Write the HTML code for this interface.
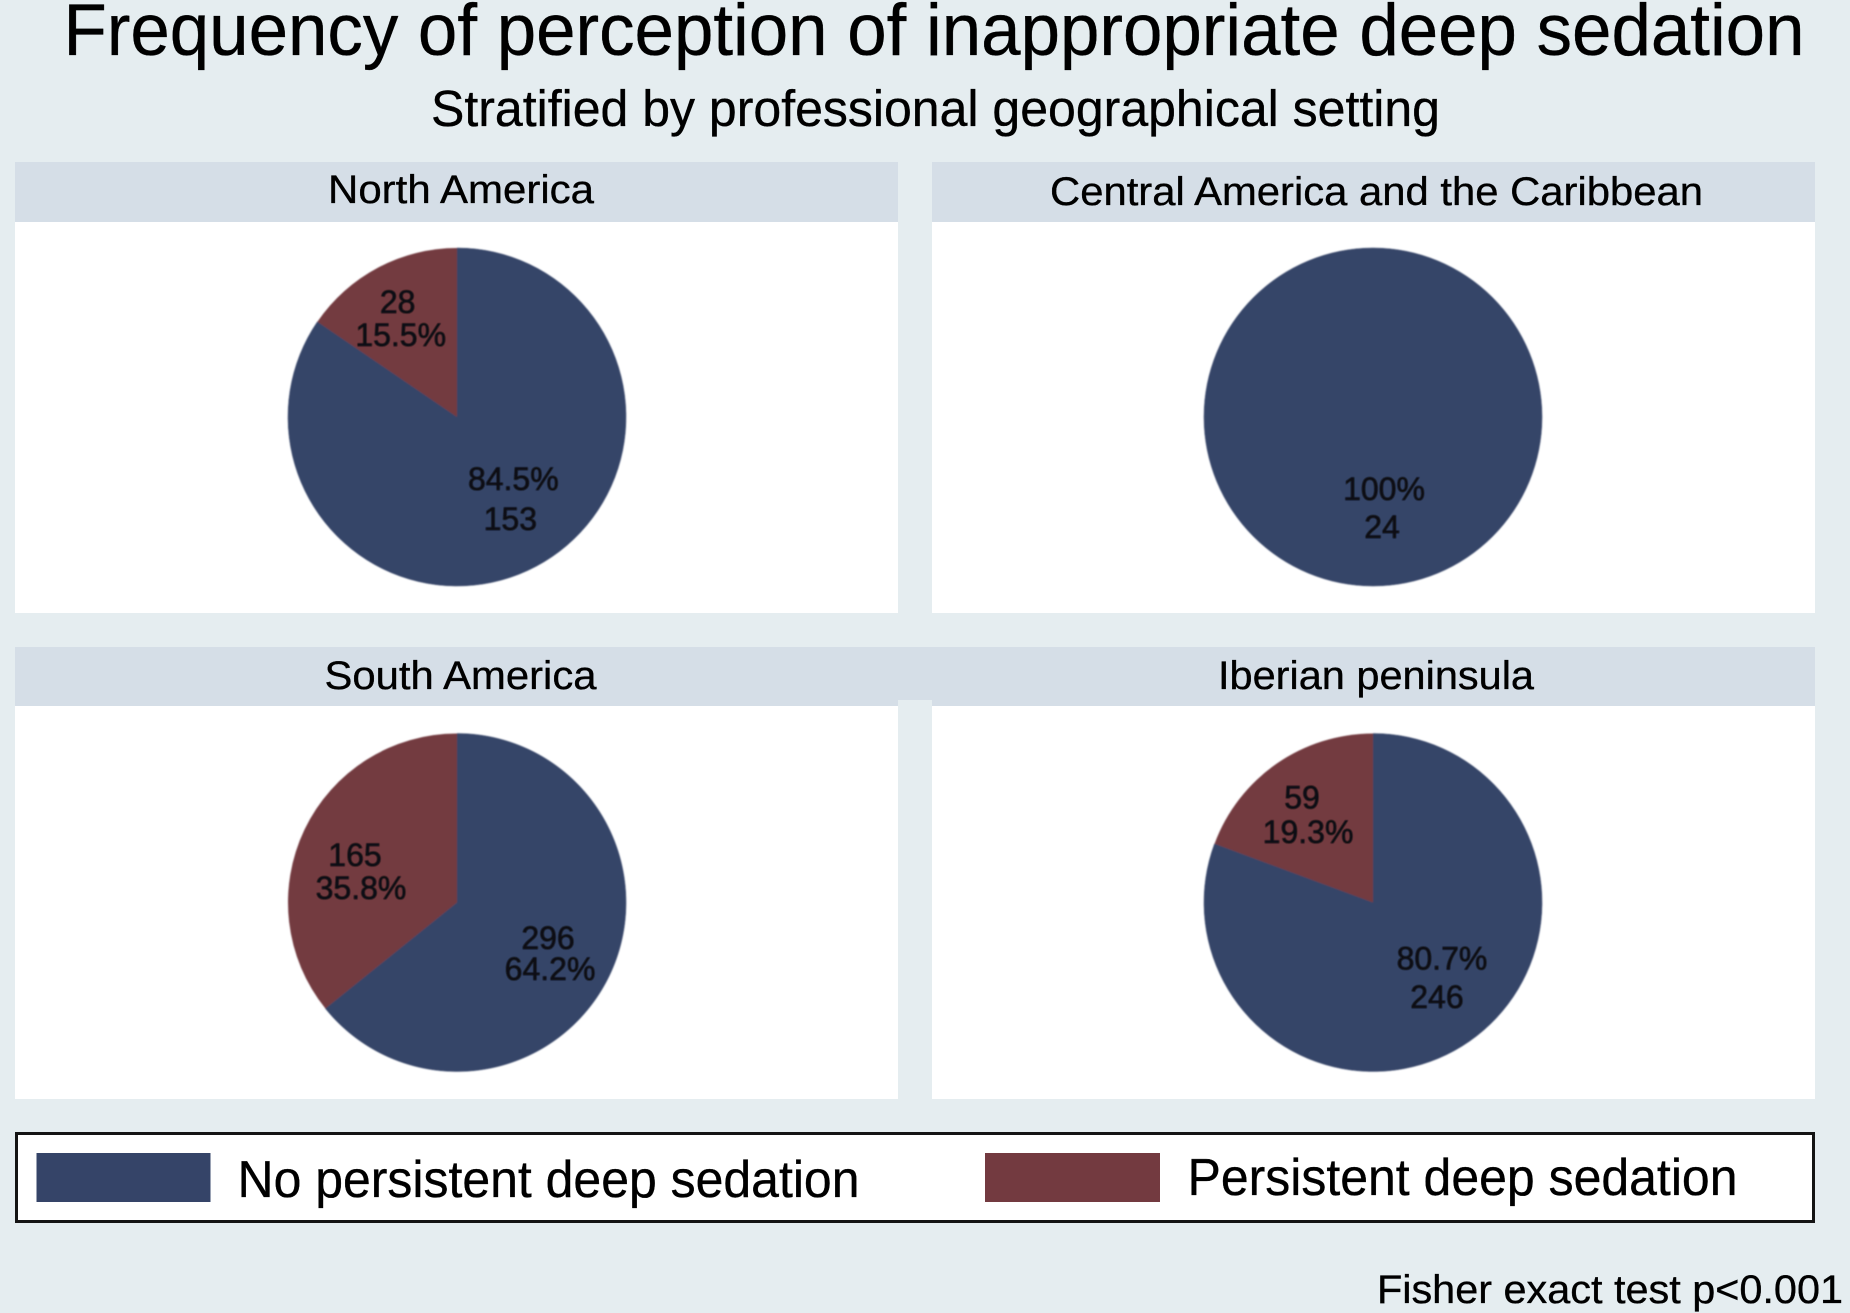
<!DOCTYPE html>
<html lang="en">
<head>
<meta charset="utf-8">
<title>Frequency of perception of inappropriate deep sedation</title>
<style>
html,body{margin:0;padding:0;background:#e5edf0;}
svg{display:block;}
text{font-family:"Liberation Sans",Arial,sans-serif;fill:#000;stroke:#000;stroke-width:0.35px;}
</style>
</head>
<body>
<svg id="chart" xmlns="http://www.w3.org/2000/svg" width="1850" height="1313" viewBox="0 0 1850 1313">
  <defs>
    <filter id="soft" x="-5%" y="-5%" width="110%" height="110%"><feGaussianBlur stdDeviation="0.7"/></filter>
    <filter id="softText" x="-5%" y="-5%" width="110%" height="110%"><feGaussianBlur stdDeviation="0.45"/></filter>
  </defs>
  <rect x="0" y="0" width="1850" height="1313" fill="#e5edf0"/>
  <text x="63.5" y="55" font-size="73" textLength="1741" lengthAdjust="spacingAndGlyphs">Frequency of perception of inappropriate deep sedation</text>
  <text x="431" y="126" font-size="51" textLength="1009" lengthAdjust="spacingAndGlyphs">Stratified by professional geographical setting</text>
  <rect x="898" y="647" width="34" height="53" fill="#d5dee7"/>
  <g id="panels"></g>
  <g>
    <rect x="16.5" y="1133.5" width="1797" height="88" fill="#fff" stroke="#141414" stroke-width="3"/>
    <rect x="36.5" y="1153" width="174" height="49" fill="#354468"/>
    <text x="237.5" y="1197" font-size="52" textLength="622" lengthAdjust="spacingAndGlyphs">No persistent deep sedation</text>
    <rect x="985" y="1153" width="175" height="49" fill="#733a40"/>
    <text x="1187.5" y="1195" font-size="52" textLength="550" lengthAdjust="spacingAndGlyphs">Persistent deep sedation</text>
  </g>
  <text x="1377" y="1303" font-size="40" textLength="466" lengthAdjust="spacingAndGlyphs">Fisher exact test p&lt;0.001</text>
</svg>
<script>
// Chart data
const regions = ["North America", "Central America and the Caribbean", "South America", "Iberian peninsula"];
const noPersistentCounts = [153, 24, 296, 246];
const persistentCounts = [28, 0, 165, 59];

// Layout only (no data values)
const SVG_NS = "http://www.w3.org/2000/svg";
const NAVY = "#354468";
const MAROON = "#733a40";
const PIE_RADIUS = 169;
const LABEL_RADIUS = 112;
const panelLayout = [
  { x: 15, y: 162, w: 883, headH: 60, bottom: 613, cx: 457, cy: 417, tx: 328, tw: 266, ty: 203 },
  { x: 932, y: 162, w: 883, headH: 60, bottom: 613, cx: 1373, cy: 417, tx: 1050, tw: 653, ty: 205 },
  { x: 15, y: 647, w: 883, headH: 59, bottom: 1099, cx: 457, cy: 902.5, tx: 324.5, tw: 272, ty: 689 },
  { x: 932, y: 647, w: 883, headH: 59, bottom: 1099, cx: 1373, cy: 902.5, tx: 1218, tw: 316, ty: 689 }
];
// Per-label line nudges relative to the slice's mid-angle anchor: [dx1, dy1, dx2, dy2]
const noPersistentNudges = [[4, -26, 1, 14], [11, -29, 9, 9], [-10, -2, -8, 29], [5, -25, 0, 13.5]];
const persistentNudges = [[-7, -5, -4, 28], [0, 0, 0, 0], [-1, 12, 5, 45], [-7, -2, -1, 32.5]];
// Which line is printed first: true = percentage on top
const noPersistentPercentFirst = [true, true, false, true];

const panelsGroup = document.getElementById("panels");

function makeEl(tag, attrs, parent) {
  const el = document.createElementNS(SVG_NS, tag);
  for (const key in attrs) el.setAttribute(key, attrs[key]);
  parent.appendChild(el);
  return el;
}

// Axis function: fraction of the pie -> point on a circle, clockwise from 12 o'clock
function polar(cx, cy, r, fraction) {
  const a = fraction * 2 * Math.PI;
  return [cx + r * Math.sin(a), cy - r * Math.cos(a)];
}

function slicePath(cx, cy, r, from, to) {
  if (to - from >= 0.9999) {
    return "M" + cx + " " + (cy - r) + "A" + r + " " + r + " 0 1 1 " + cx + " " + (cy + r) +
           "A" + r + " " + r + " 0 1 1 " + cx + " " + (cy - r) + "Z";
  }
  const p0 = polar(cx, cy, r, from);
  const p1 = polar(cx, cy, r, to);
  const large = to - from > 0.5 ? 1 : 0;
  return "M" + cx + " " + cy + "L" + p0[0] + " " + p0[1] +
         "A" + r + " " + r + " 0 " + large + " 1 " + p1[0] + " " + p1[1] + "Z";
}

function formatPercent(fraction) {
  const pct = fraction * 100;
  return (pct >= 99.95 ? "100" : pct.toFixed(1)) + "%";
}

function drawLabelLine(parent, text, x, y) {
  const t = makeEl("text", { x: x, y: y, "font-size": 32, "text-anchor": "middle", filter: "url(#softText)" }, parent);
  t.style.fill = "#0b0d12";
  t.style.stroke = "#0b0d12";
  t.style.strokeWidth = "0.6px";
  t.textContent = text;
  
  
}

regions.forEach(function (region, i) {
  const L = panelLayout[i];
  const group = makeEl("g", {}, panelsGroup);
  
  

  const plot = makeEl("rect", { x: L.x, y: L.y + L.headH, width: L.w, height: L.bottom - L.y - L.headH, fill: "#fff" }, group);
  
  

  const head = makeEl("rect", { x: L.x, y: L.y, width: L.w, height: L.headH, fill: "#d5dee7" }, group);
  
  

  const title = makeEl("text", { x: L.tx, y: L.ty, "font-size": 40, textLength: L.tw, lengthAdjust: "spacingAndGlyphs" }, group);
  title.textContent = region;
  
  

  const total = noPersistentCounts[i] + persistentCounts[i];
  const blueFrac = noPersistentCounts[i] / total;
  const redFrac = persistentCounts[i] / total;

  // Slices share one blurred group so no light seam shows between them
  const pie = makeEl("g", { filter: "url(#soft)" }, group);
  
  

  if (blueFrac > 0) {
    const blue = makeEl("path", { d: slicePath(L.cx, L.cy, PIE_RADIUS, 0, blueFrac), fill: NAVY, stroke: NAVY, "stroke-width": 0.5 }, pie);
    
    
  }
  if (redFrac > 0) {
    const red = makeEl("path", { d: slicePath(L.cx, L.cy, PIE_RADIUS, blueFrac, 1), fill: MAROON }, pie);
    
    
  }

  if (blueFrac > 0) {
    const a = polar(L.cx, L.cy, LABEL_RADIUS, blueFrac / 2);
    const n = noPersistentNudges[i];
    const lines = noPersistentPercentFirst[i]
      ? [formatPercent(blueFrac), String(noPersistentCounts[i])]
      : [String(noPersistentCounts[i]), formatPercent(blueFrac)];
    drawLabelLine(group, lines[0], a[0] + n[0], a[1] + n[1]);
    drawLabelLine(group, lines[1], a[0] + n[2], a[1] + n[3]);
  }
  if (redFrac > 0) {
    const a = polar(L.cx, L.cy, LABEL_RADIUS, blueFrac + redFrac / 2);
    const n = persistentNudges[i];
    drawLabelLine(group, String(persistentCounts[i]), a[0] + n[0], a[1] + n[1]);
    drawLabelLine(group, formatPercent(redFrac), a[0] + n[2], a[1] + n[3]);
  }
});
</script>
</body>
</html>
